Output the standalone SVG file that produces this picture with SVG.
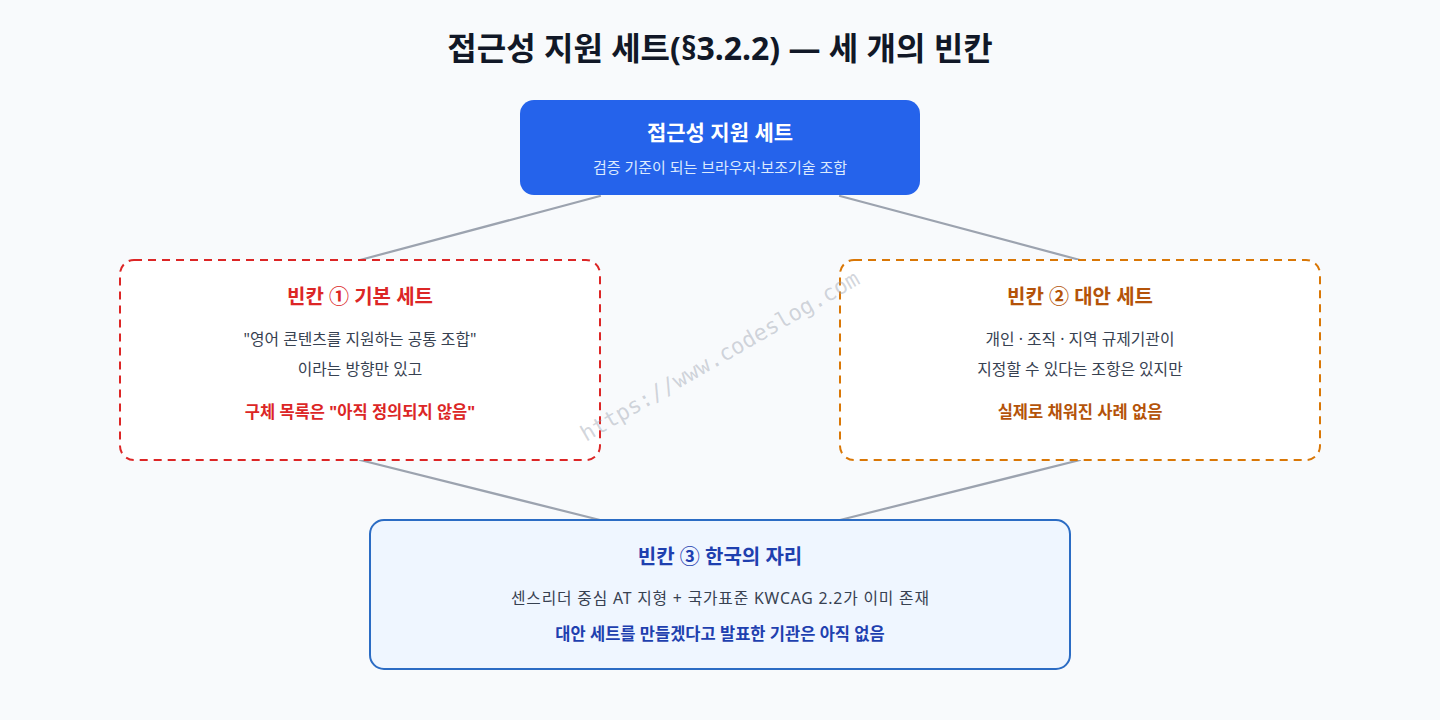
<svg xmlns="http://www.w3.org/2000/svg" width="1440" height="720" viewBox="0 0 1440 720">
  <style>
    text { font-family: "Noto Sans", "Noto Sans CJK KR", sans-serif; text-anchor: middle; }
    .title { font-size: 32px; font-weight: 700; fill: #111827; }
    .conn { stroke: #9ca3af; stroke-width: 2.2; fill: none; stroke-linecap: round; }
    .h { font-size: 20px; font-weight: 700; }
    .body { font-size: 15.8px; fill: #374151; }
    .em { font-size: 16.5px; font-weight: 700; }
    .dash { fill: #ffffff; stroke-width: 2; stroke-dasharray: 8 6; }
    .wm { font-family: "DejaVu Sans Mono", "Liberation Mono", monospace; font-size: 22px; fill: #9ca3af; fill-opacity: 0.45; text-anchor: start; }
  </style>
  <rect width="1440" height="720" fill="#f8fafc"/>
  <text class="title" x="720" y="60">접근성 지원 세트(§3.2.2) — 세 개의 빈칸</text>

  <g id="connectors">
    <line class="conn" x1="600" y1="196" x2="360" y2="260"/>
    <line class="conn" x1="840" y1="196" x2="1080" y2="260"/>
    <line class="conn" x1="360" y1="460" x2="600" y2="520"/>
    <line class="conn" x1="1080" y1="460" x2="840" y2="520"/>
  </g>

  <g id="node-root">
    <rect x="520" y="100" width="400" height="95" rx="14" fill="#2563eb"/>
    <text x="720" y="140" fill="#ffffff" style="font-size:21px;font-weight:700">접근성 지원 세트</text>
    <text x="720" y="173" fill="#dbeafe" style="font-size:15px">검증 기준이 되는 브라우저·보조기술 조합</text>
  </g>

  <g id="node-blank1">
    <rect class="dash" x="120" y="260" width="480" height="200" rx="14" stroke="#dc2626"/>
    <text class="h" x="360" y="304" fill="#dc2626">빈칸 ① 기본 세트</text>
    <text class="body" x="360" y="345">"영어 콘텐츠를 지원하는 공통 조합"</text>
    <text class="body" x="360" y="375">이라는 방향만 있고</text>
    <text class="em" x="360" y="418" fill="#dc2626">구체 목록은 "아직 정의되지 않음"</text>
  </g>

  <g id="node-blank2">
    <rect class="dash" x="840" y="260" width="480" height="200" rx="14" stroke="#d97706"/>
    <text class="h" x="1080" y="304" fill="#b45309">빈칸 ② 대안 세트</text>
    <text class="body" x="1080" y="345">개인 · 조직 · 지역 규제기관이</text>
    <text class="body" x="1080" y="375">지정할 수 있다는 조항은 있지만</text>
    <text class="em" x="1080" y="418" fill="#b45309">실제로 채워진 사례 없음</text>
  </g>

  <g id="node-blank3">
    <rect x="370" y="520" width="700" height="149" rx="14" fill="#eff6ff" stroke="#2b6cc4" stroke-width="2"/>
    <text class="h" x="720" y="564" fill="#1e40af">빈칸 ③ 한국의 자리</text>
    <text class="body" x="720" y="604" textLength="418" lengthAdjust="spacing">센스리더 중심 AT 지형 + 국가표준 KWCAG 2.2가 이미 존재</text>
    <text class="em" x="720" y="640" fill="#1e40af">대안 세트를 만들겠다고 발표한 기관은 아직 없음</text>
  </g>

  <text class="wm" transform="translate(586,442) rotate(-30)">https://www.codeslog.com</text>
</svg>
